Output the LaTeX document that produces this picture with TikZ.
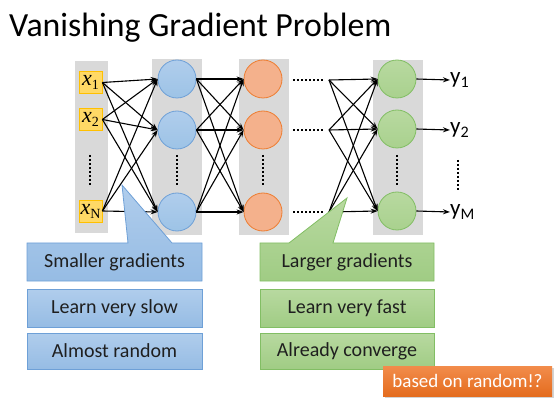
\documentclass[tikz,border=0pt]{standalone}
\usepackage{fontspec}
\setmainfont{Carlito}
\newfontfamily\timesfont{Liberation Serif}
\usetikzlibrary{arrows.meta,shadows}
\definecolor{graycol}{RGB}{217,217,217}
\definecolor{bluefill}{RGB}{157,195,230}
\definecolor{bluetop}{RGB}{176,205,236}
\definecolor{bluebot}{RGB}{150,188,228}
\definecolor{bluedraw}{RGB}{110,160,215}
\definecolor{orfill}{RGB}{244,177,140}
\definecolor{ordraw}{RGB}{237,125,49}
\definecolor{grfill}{RGB}{169,209,142}
\definecolor{grtop}{RGB}{184,217,160}
\definecolor{grbot}{RGB}{160,204,132}
\definecolor{grdraw}{RGB}{130,190,100}
\definecolor{xfill}{RGB}{255,217,102}
\definecolor{xdraw}{RGB}{255,192,0}
\definecolor{orbtop}{RGB}{242,140,75}
\definecolor{orbbot}{RGB}{228,108,30}
\newcommand{\xlab}[1]{{\itshape x}\raisebox{-4pt}{\fontsize{14}{14}\selectfont #1}}
\tikzset{
  graycolumn/.style={fill=graycol, draw=none},
  xbox/.style={draw=xdraw, fill=xfill, line width=0.8pt, minimum width=23pt, minimum height=22pt, inner sep=0pt, font=\timesfont\fontsize{22}{22}\selectfont},
  neuron/.style={circle, minimum size=38pt, inner sep=0pt, line width=0.8pt},
  bneuron/.style={neuron, draw=bluedraw, top color=bluetop, bottom color=bluefill},
  oneuron/.style={neuron, draw=ordraw, fill=orfill},
  gneuron/.style={neuron, draw=grdraw, top color=grtop, bottom color=grfill},
  conn/.style={line width=1.1pt, -{Stealth[length=7pt,width=5pt]}},
  vdots/.style={line width=1.7pt, dash pattern=on 1.7pt off 2.3pt},
  hdots/.style={line width=1.7pt, dash pattern=on 1.7pt off 2.3pt},
  bluebox/.style={draw=bluedraw, line width=0.8pt, top color=bluetop, bottom color=bluebot},
  greenbox/.style={draw=grdraw, line width=0.8pt, top color=grtop, bottom color=grbot},
  boxtext/.style={font=\fontsize{20}{22}\selectfont, text=black!88},
  ylabel/.style={anchor=west, inner sep=0pt, font=\fontsize{23}{23}\selectfont}
}
\begin{document}
\begin{tikzpicture}[x=1pt,y=-1pt]
\useasboundingbox (0,0) rectangle (557,406);
% title
\node[anchor=base west, inner sep=0pt, font=\fontsize{33.8}{40}\selectfont] (title) at (9,37) {Vanishing Gradient Problem};
% gray columns
\fill[graycolumn] (75,61) rectangle (108,233);
\fill[graycolumn] (152,59) rectangle (202,235);
\fill[graycolumn] (239,59) rectangle (289,235);
\fill[graycolumn] (373,60) rectangle (423,235);
% inputs
\node[xbox] (x1) at (90.5,82.5) {\xlab{1}};
\node[xbox] (x2) at (90.5,119.5) {\xlab{2}};
\node[xbox] (xN) at (90.5,211) {\xlab{N}};
% hidden 1
\node[bneuron] (b1) at (177,79) {};
\node[bneuron] (b2) at (177,130) {};
\node[bneuron] (b3) at (177,212) {};
% hidden 2
\node[oneuron] (o1) at (263,79) {};
\node[oneuron] (o2) at (263,130) {};
\node[oneuron] (o3) at (263,212) {};
% output
\node[gneuron] (g1) at (397,79) {};
\node[gneuron] (g2) at (397,129) {};
\node[gneuron] (g3) at (397,211) {};
% vertical dots
\draw[vdots] (90,155) -- (90,186);
\draw[vdots] (177,155) -- (177,186);
\draw[vdots] (263,155) -- (263,186);
\draw[vdots] (397,155) -- (397,186);
\draw[vdots] (458,160) -- (458,190);
% horizontal dots
\coordinate (d1) at (329,80);
\coordinate (d2) at (329,130);
\coordinate (d3) at (329,212);
\draw[hdots] (293,80) -- (324,80);
\draw[hdots] (293,130) -- (324,130);
\draw[hdots] (293,212) -- (324,212);
% connections input -> hidden1
\foreach \s in {x1,x2,xN}{
  \foreach \t in {b1,b2,b3}{
    \draw[conn] (\s.east) -- (\t.west);
  }
}
\foreach \s in {b1,b2,b3}{
  \foreach \t in {o1,o2,o3}{
    \draw[conn] (\s.east) -- (\t.west);
  }
}
\foreach \s in {d1,d2,d3}{
  \foreach \t in {g1,g2,g3}{
    \draw[conn] (\s) -- (\t.west);
  }
}
% outputs
\node[ylabel] (y1) at (450,80) {y\textsubscript{1}};
\node[ylabel] (y2) at (450,130) {y\textsubscript{2}};
\node[ylabel] (yM) at (450,212) {y\textsubscript{M}};
\draw[conn] (g1.east) -- (y1.west);
\draw[conn] (g2.east) -- (y2.west);
\draw[conn] (g3.east) -- (yM.west);
% blue callouts
\draw[bluebox] (27,243) -- (128,243) -- (122,185) -- (172,243) -- (202,243) -- (202,281) -- (27,281) -- cycle;
\node[boxtext] (sg) at (114.5,262) {Smaller gradients};
\node[bluebox, boxtext, minimum width=175pt, minimum height=38pt, inner sep=0pt] (lvs) at (114.5,308) {Learn very slow};
\node[bluebox, boxtext, minimum width=175pt, minimum height=36pt, inner sep=0pt] (ar) at (114.5,351) {Almost random};
% green callouts
\draw[greenbox] (260,243) -- (289,243) -- (347,198) -- (333,243) -- (434,243) -- (434,281) -- (260,281) -- cycle;
\node[boxtext] (lg) at (347,262) {Larger gradients};
\node[greenbox, boxtext, minimum width=174pt, minimum height=38pt, inner sep=0pt] (lvf) at (347,308) {Learn very fast};
\node[greenbox, boxtext, minimum width=174pt, minimum height=36pt, inner sep=0pt] (ac) at (347,351) {Already converge};
% orange note
\node[top color=orbtop, bottom color=orbbot, drop shadow={opacity=0.35, shadow xshift=2pt, shadow yshift=-2pt}, text=white, font=\fontsize{19}{21}\selectfont, minimum width=169pt, minimum height=30pt, inner sep=0pt] (note) at (467.5,381) {based on random!?};
\end{tikzpicture}
\end{document}
